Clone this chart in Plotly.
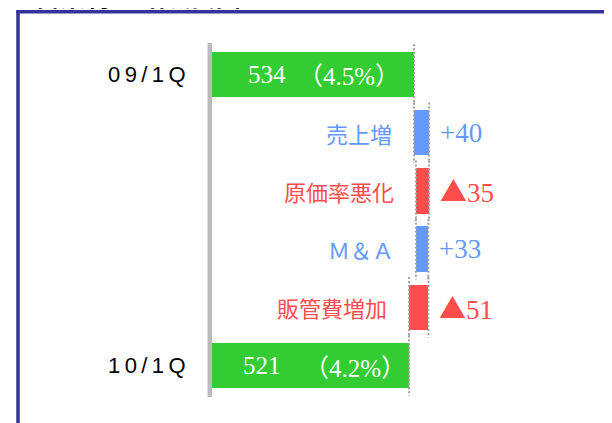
import plotly.graph_objects as go

# ---- data ----
categories = ["09/1Q", "売上増", "原価率悪化", "Ｍ＆Ａ", "販管費増加", "10/1Q"]
start_value = 534
end_value = 521
deltas = [40, -35, 33, -51]
margin_start = "4.5%"
margin_end = "4.2%"
delta_signs = ["+", "▲", "+", "▲"]
title_text = "営業利益 増減要因"

GREEN = "#33CC33"
BLUE = "#6699FF"
RED = "#FF4D4D"
GRAY = "#A0A0A0"

OFF = 8  # page body margin in the browser
W, H = 612 - OFF, 423 - OFF
L, R, T, B = 212 - OFF, 12, 43 - OFF, 26
pw, ph = W - L - R, H - T - B

# pixel offsets (from bar start) of the texts inside the two green bars
num_shift = {0: 34, 5: 29}
pct_shift = {0: 137, 5: 143}


def pxx(p):  # page pixel -> paper
    return (p - OFF - L) / pw


def pxy(p):
    return 1 - (p - OFF - T) / ph


# build waterfall pieces
bases = [0]
lengths = [start_value]
level = start_value
for d in deltas:
    bases.append(level)
    lengths.append(d)
    level += d
bases.append(0)
lengths.append(end_value)

colors = [GREEN] + [BLUE if d > 0 else RED for d in deltas] + [GREEN]
ypos = list(range(len(categories)))
bar_w = 0.78

fig = go.Figure()
fig.add_trace(go.Bar(
    y=ypos, x=lengths, base=bases, orientation="h",
    marker=dict(color=colors, line=dict(width=0)),
    width=bar_w,
    hoverinfo="skip",
))

shapes = []
ext = 0.13
for i, (b, l) in enumerate(zip(bases, lengths)):
    y0, y1 = ypos[i] - bar_w / 2 - ext, ypos[i] + bar_w / 2 + ext
    if i == 0 or i == len(categories) - 1:
        edges = [b + l]
    else:
        edges = [b, b + l]
    for e in edges:
        shapes.append(dict(type="line", xref="x", yref="y", x0=e, x1=e, y0=y0, y1=y1,
                           line=dict(color=GRAY, width=2, dash="2px,2px"), layer="above"))

# vertical axis line (grey)
shapes.append(dict(type="line", xref="paper", yref="paper", x0=pxx(209.8), x1=pxx(209.8),
                   y0=0, y1=1, line=dict(color="#BBBBBB", width=4.5)))
# blue frame
shapes.append(dict(type="line", xref="paper", yref="paper", x0=pxx(16.5), x1=pxx(625),
                   y0=pxy(11.8), y1=pxy(11.8), line=dict(color="#333399", width=3.5)))
shapes.append(dict(type="line", xref="paper", yref="paper", x0=pxx(18), x1=pxx(18),
                   y0=pxy(10), y1=pxy(440), line=dict(color="#333399", width=3.5)))

annotations = []
sign_font = "font-family:'Noto Sans CJK JP'"
inner_font = dict(family="Liberation Serif", size=25, color="white")
for i, name in enumerate(categories):
    if i == 0 or i == len(categories) - 1:
        annotations.append(dict(x=0, y=ypos[i], xref="x", yref="y", xanchor="right", yanchor="middle",
                                xshift=-24, text="\u2009".join(name), showarrow=False,
                                font=dict(family="Liberation Sans", size=22, color="black")))
        value = start_value if i == 0 else end_value
        pct = margin_start if i == 0 else margin_end
        annotations.append(dict(x=0, y=ypos[i], xref="x", yref="y", xanchor="left",
                                yanchor="middle", xshift=num_shift[i], text=str(value), showarrow=False,
                                font=inner_font))
        annotations.append(dict(x=0, y=ypos[i], xref="x", yref="y", xanchor="center",
                                yanchor="middle", xshift=pct_shift[i],
                                text=f"<span style=\"{sign_font}\">（</span>{pct}<span style=\"{sign_font}\">）</span>",
                                showarrow=False, font=inner_font))
    else:
        b, l = bases[i], lengths[i]
        annotations.append(dict(x=min(b, b + l), y=ypos[i], xref="x", yref="y", xanchor="right",
                                yanchor="middle", xshift=-20, text=name, showarrow=False,
                                font=dict(family="Noto Sans CJK JP", size=22, color=colors[i])))
        sign = delta_signs[i - 1]
        if sign == "▲":
            label = f"<span style=\"{sign_font}\">▲</span>{abs(lengths[i])}"
        else:
            label = f"+{abs(lengths[i])}"
        annotations.append(dict(x=max(b, b + l), y=ypos[i], xref="x", yref="y", xanchor="left",
                                yanchor="middle", xshift=9, text=label, showarrow=False,
                                font=dict(family="Liberation Serif", size=27, color=colors[i])))

# partially visible title at top
annotations.append(dict(x=pxx(33), y=pxy(-4.5), xref="paper", yref="paper", xanchor="left", yanchor="middle",
                        text=f"<b>{title_text}</b>", showarrow=False,
                        font=dict(family="Noto Sans CJK JP", size=25, color="black")))

fig.update_layout(
    width=W, height=H,
    margin=dict(l=L, r=R, t=T, b=B),
    paper_bgcolor="white", plot_bgcolor="white",
    showlegend=False,
    xaxis=dict(range=[0, pw * start_value / 202], visible=False, fixedrange=True),
    yaxis=dict(range=[5.54, -0.54], visible=False, fixedrange=True),
    shapes=shapes,
    annotations=annotations,
    bargap=0,
)

fig.write_html("out.html", config={"displayModeBar": False})
